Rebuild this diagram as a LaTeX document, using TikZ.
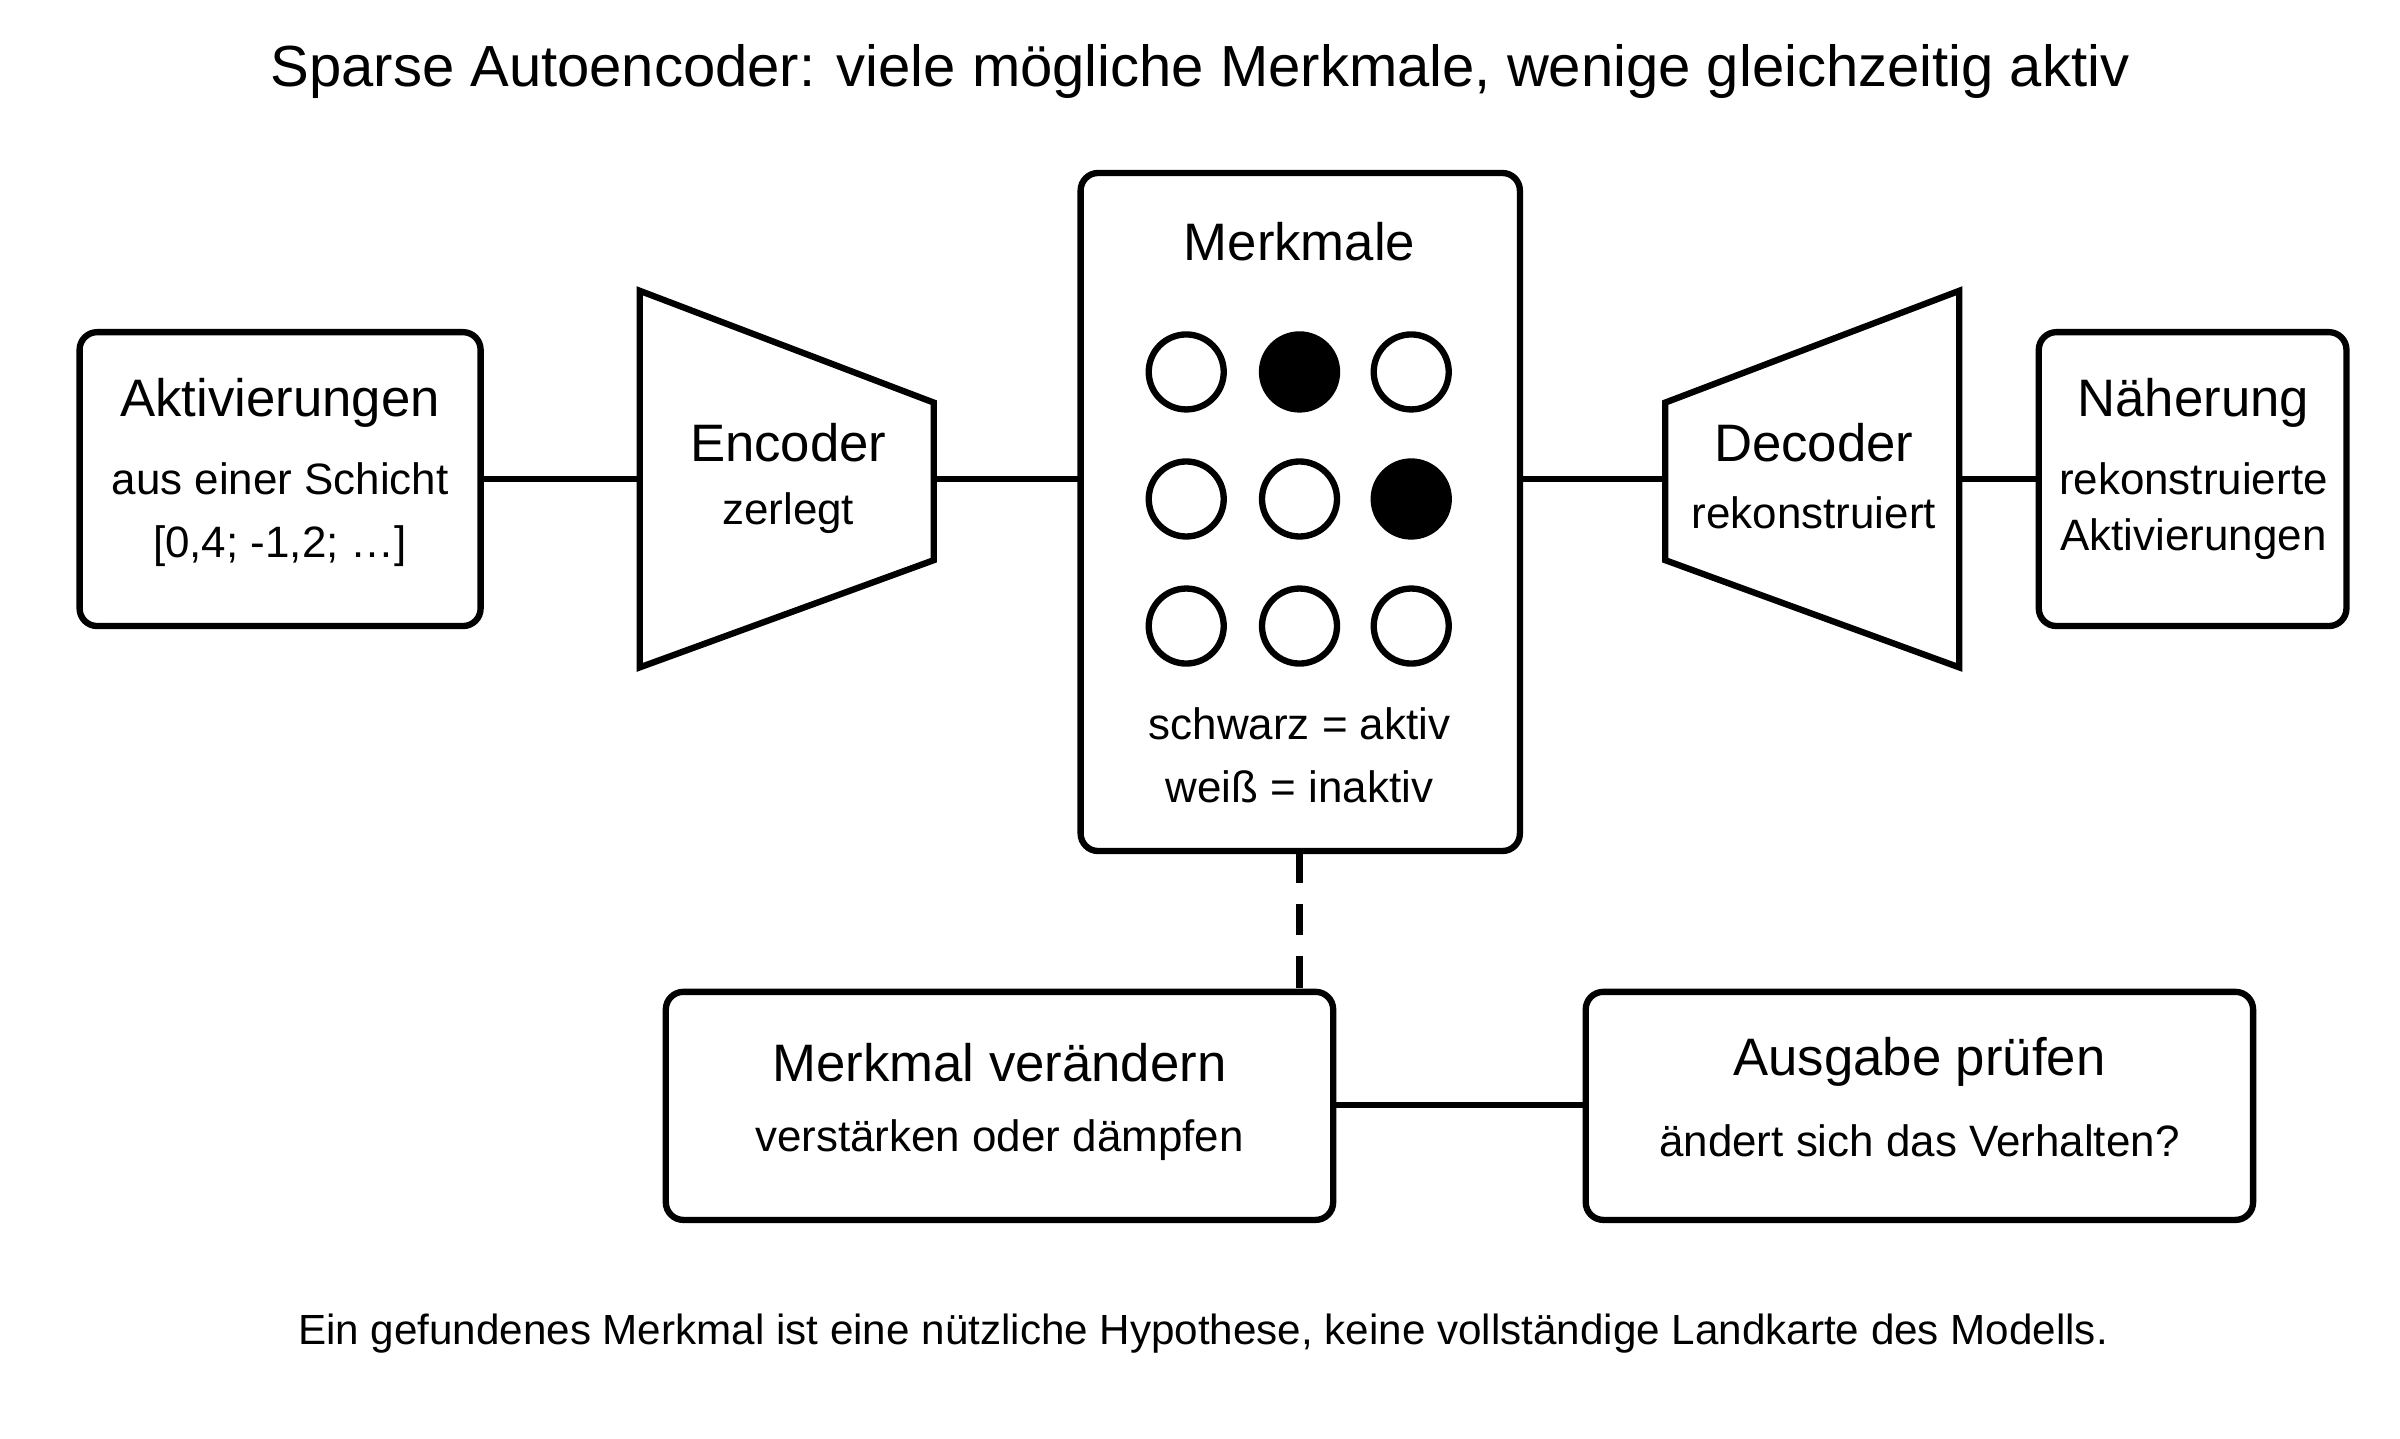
\documentclass[tikz,border=0pt]{standalone}
\usepackage{fontspec}
\setmainfont{Liberation Sans}
\begin{document}
\begin{tikzpicture}[x=0.015306cm,y=-0.015306cm,
  box/.style={draw,line width=1.8pt,rounded corners=5pt,inner sep=0pt},
  ln/.style={line width=1.8pt},
  big/.style={font=\fontsize{15}{18}\selectfont},
  sm/.style={font=\fontsize{12.5}{15}\selectfont},
  dot/.style={circle,draw,line width=1.8pt,minimum size=0.75cm,inner sep=0pt}]
\useasboundingbox (0,0) rectangle (1568,940);
\node[font=\fontsize{16.5}{20}\selectfont] (title) at (784,47) {Sparse Autoencoder: viele mögliche Merkmale, wenige gleichzeitig aktiv};
% input box
\draw[box] (52,217) rectangle (314,409);
\coordinate (inR) at (314,313);
\node[big] (t1) at (183,263) {Aktivierungen};
\node[sm] (t2) at (183,313) {aus einer Schicht};
\node[sm] (t3) at (183,357) {[0,4; -1,2; …]};
% encoder
\draw[ln,line join=miter] (418,190) -- (610,263) -- (610,366) -- (418,436) -- cycle;
\coordinate (encL) at (418,313); \coordinate (encR) at (610,313);
\node[big] (e1) at (515,289) {Encoder};
\node[sm] (e2) at (515,335) {zerlegt};
% features
\draw[box] (706,113) rectangle (993,556);
\coordinate (fL) at (706,313); \coordinate (fR) at (993,313); \coordinate (fB) at (849,556);
\node[big] (m1) at (849,158) {Merkmale};
\node[dot] (c11) at (775,243) {}; \node[dot,fill=black] (c12) at (849,243) {}; \node[dot] (c13) at (922,243) {};
\node[dot] (c21) at (775,326) {}; \node[dot] (c22) at (849,326) {}; \node[dot,fill=black] (c23) at (922,326) {};
\node[dot] (c31) at (775,409) {}; \node[dot] (c32) at (849,409) {}; \node[dot] (c33) at (922,409) {};
\node[sm] (m2) at (849,473) {schwarz = aktiv};
\node[sm] (m3) at (849,514) {weiß = inaktiv};
% decoder
\draw[ln,line join=miter] (1088,263) -- (1280,190) -- (1280,436) -- (1088,366) -- cycle;
\coordinate (decL) at (1088,313); \coordinate (decR) at (1280,313);
\node[big] (d1) at (1185,289) {Decoder};
\node[sm] (d2) at (1185,335) {rekonstruiert};
% output
\draw[box] (1332,217) rectangle (1533,409);
\coordinate (outL) at (1332,313);
\node[big] (n1) at (1433,263) {Näherung};
\node[sm] (n2) at (1433,313) {rekonstruierte};
\node[sm] (n3) at (1433,352) {Aktivierungen};
% connectors
\draw[ln] (inR) -- (encL);
\draw[ln] (encR) -- (fL);
\draw[ln] (fR) -- (decL);
\draw[ln] (decR) -- (outL);
% bottom
\draw[box] (435,648) rectangle (871,797);
\coordinate (vT) at (849,648); \coordinate (vR) at (871,722);
\node[big] (v1) at (653,694) {Merkmal verändern};
\node[sm] (v2) at (653,745) {verstärken oder dämpfen};
\draw[box] (1036,648) rectangle (1472,797);
\coordinate (aL) at (1036,722);
\node[big] (a1) at (1254,694) {Ausgabe prüfen};
\node[sm] (a2) at (1254,745) {ändert sich das Verhalten?};
\draw[ln,dash pattern=on 9pt off 6pt] (fB) -- (vT);
\draw[ln] (vR) -- (aL);
\node[font=\fontsize{12}{14}\selectfont] (foot) at (786,871) {Ein gefundenes Merkmal ist eine nützliche Hypothese, keine vollständige Landkarte des Modells.};
\end{tikzpicture}
\end{document}
